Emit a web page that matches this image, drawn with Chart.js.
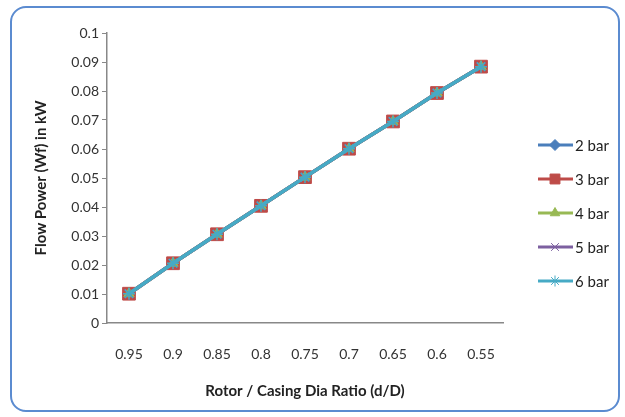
<!DOCTYPE html>
<html>
<head>
<meta charset="utf-8">
<script src="https://cdn.jsdelivr.net/npm/chart.js@4"></script>
<style>
  html, body { margin: 0; padding: 0; background: #fff; }
  #wrap { position: relative; width: 625px; height: 417px; }
  #frame {
    position: absolute; left: 10px; top: 6px; width: 610px; height: 406px;
    border: 2px solid #5b8bd0; border-radius: 16px; box-sizing: border-box;
  }
  canvas { position: absolute; left: 0; top: 0; }
</style>
</head>
<body>
<div id="wrap">
  <div id="frame"></div>
  <canvas id="myChart" width="625" height="417"></canvas>
</div>
<script>
// Enter your code below

let ratios = ["0.95", "0.9", "0.85", "0.8", "0.75", "0.7", "0.65", "0.6", "0.55"];
let bar2 = [0.0101, 0.0206, 0.0306, 0.0404, 0.0503, 0.0601, 0.0695, 0.0793, 0.0884];
let bar3 = [0.0101, 0.0206, 0.0306, 0.0404, 0.0503, 0.0601, 0.0695, 0.0793, 0.0884];
let bar4 = [0.0101, 0.0206, 0.0306, 0.0404, 0.0503, 0.0601, 0.0695, 0.0793, 0.0884];
let bar5 = [0.0101, 0.0206, 0.0306, 0.0404, 0.0503, 0.0601, 0.0695, 0.0793, 0.0884];
let bar6 = [0.0101, 0.0206, 0.0306, 0.0404, 0.0503, 0.0601, 0.0695, 0.0793, 0.0884];

let labels = ["2 bar", "3 bar", "4 bar", "5 bar", "6 bar"];
let colors = ['#4a7ebb', '#be4b48', '#98b954', '#7d60a0', '#46aac5'];
let markers = ['rectRot', 'rect', 'triangle', 'crossRot', 'star'];
let series = [bar2, bar3, bar4, bar5, bar6];

let fontName = 'Lato, "Open Sans", sans-serif';

// legend drawn by hand so the line + marker sample looks like the original
let sideLegend = {
  id: 'sideLegend',
  afterDraw(chart) {
    let ctx = chart.ctx;
    ctx.save();
    chart.data.datasets.forEach((ds, i) => {
      let y = 145 + i * 34;
      ctx.strokeStyle = ds.borderColor;
      ctx.lineWidth = 3;
      ctx.beginPath();
      ctx.moveTo(538, y);
      ctx.lineTo(573, y);
      ctx.stroke();
      ctx.fillStyle = ds.borderColor;
      ctx.lineWidth = 1;
      Chart.helpers.drawPoint(ctx, {
        pointStyle: ds.pointStyle, radius: ds.pointStyle == 'rect' ? 7 : 5.5, rotation: 0, borderWidth: 1
      }, 555, y);
      ctx.fillStyle = '#222';
      ctx.font = '15px ' + fontName;
      ctx.textBaseline = 'middle';
      ctx.fillText(ds.label, 575, y + 1);
    });
    ctx.restore();
  }
};

let lineChart = new Chart(document.getElementById("myChart"), {
  type: 'line',
  data: {
    labels: ratios,
    datasets: series.map((vals, i) => ({
      label: labels[i],
      data: vals,
      borderColor: colors[i],
      backgroundColor: colors[i],
      pointStyle: markers[i],
      pointRadius: markers[i] == 'rect' ? 9 : 6,
      pointBorderWidth: markers[i] == 'crossRot' || markers[i] == 'star' ? 1.5 : 1,
      borderWidth: 3.5,
      tension: 0,
      order: 5 - i
    }))
  },
  options: {
    responsive: false,
    animation: false,
    layout: { padding: { left: 28, right: 122, top: 33, bottom: 13 } },
    plugins: {
      legend: { display: false },
      tooltip: { enabled: false }
    },
    scales: {
      x: {
        offset: true,
        grid: { display: false, drawTicks: false },
        border: { color: '#888', width: 1.5 },
        ticks: { padding: 23, color: '#333', font: { family: fontName, size: 14 } },
        title: {
          display: true, text: 'Rotor / Casing Dia Ratio (d/D)', color: '#222',
          font: { family: fontName, size: 15, weight: 'bold' }, padding: { top: 4, bottom: 4 }
        },
        afterFit(scale) { scale.height = 81; }
      },
      y: {
        min: 0, max: 0.1,
        grid: { drawOnChartArea: false, tickLength: 5, color: '#888' },
        border: { color: '#888', width: 1.5 },
        ticks: {
          stepSize: 0.01, padding: 3, color: '#333',
          font: { family: fontName, size: 14 },
          callback: v => String(+v.toFixed(2))
        },
        title: {
          display: true, text: 'Flow Power (Wf) in kW', color: '#222',
          font: { family: fontName, size: 15, weight: 'bold' }, padding: { top: 4, bottom: 4 }
        },
        afterFit(scale) { scale.width = 79; }
      }
    }
  },
  plugins: [sideLegend]
});
</script>
</body>
</html>
